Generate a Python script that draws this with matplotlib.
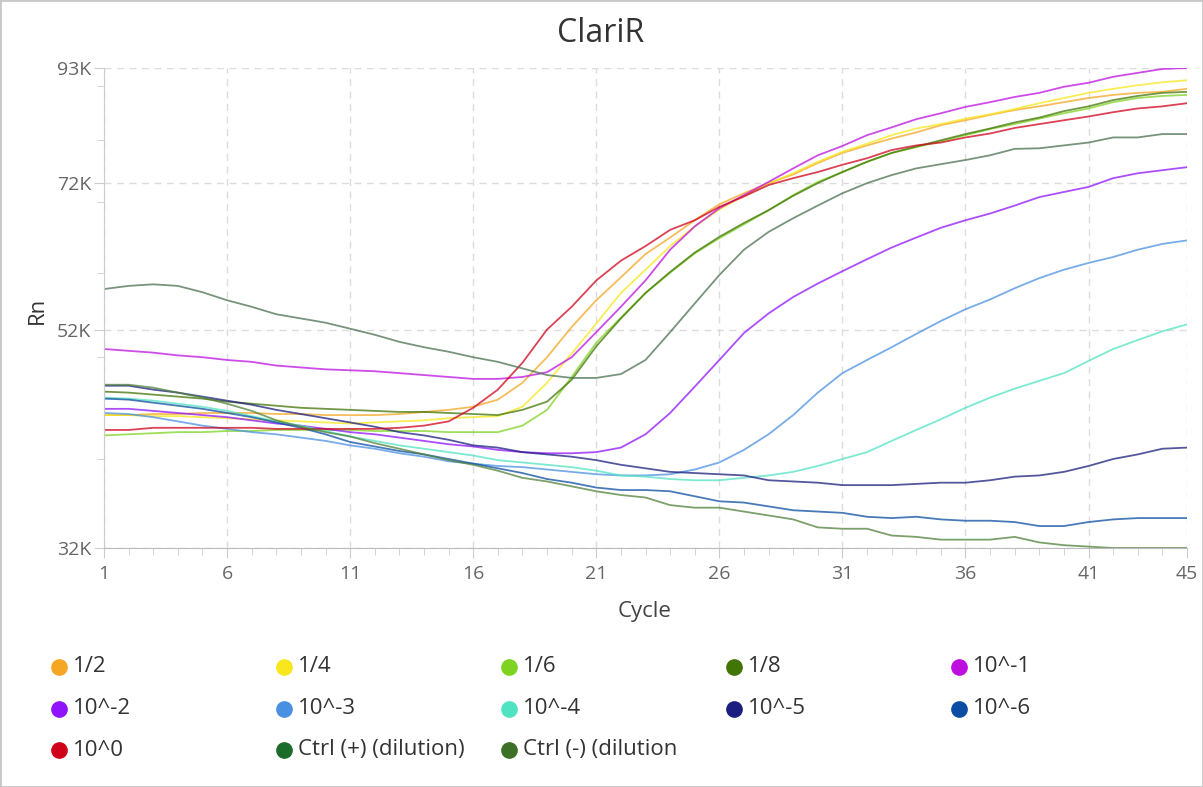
import matplotlib.pyplot as plt
from matplotlib.ticker import FixedLocator, FixedFormatter, NullFormatter
from matplotlib.patches import Rectangle

plt.rcParams['font.family'] = ['Open Sans', 'DejaVu Sans']

cycles = list(range(1, 46))

# Rn readings in thousands, one value per cycle
half = [43.0, 43.0, 43.1, 43.1, 43.2, 43.2, 43.2, 43.1, 43.1, 43.0, 43.0, 43.0, 43.1,
        43.3, 43.5, 43.8, 44.5, 46.2, 48.9, 52.3, 55.5, 58.4, 61.5, 63.8, 66.3, 68.7,
        70.4, 72.0, 73.4, 75.3, 77.0, 78.3, 79.5, 80.6, 81.9, 82.8, 83.8, 84.7, 85.4,
        86.2, 87.0, 87.6, 88.0, 88.2, 88.8]
quarter = [43.0, 43.0, 42.9, 42.9, 42.8, 42.7, 42.6, 42.5, 42.4, 42.3, 42.2, 42.3, 42.4,
           42.5, 42.7, 42.8, 42.9, 43.8, 46.2, 49.3, 52.7, 56.4, 59.4, 62.6, 65.4, 67.9,
           70.0, 71.9, 73.6, 75.5, 77.2, 78.6, 80.1, 81.3, 82.1, 83.1, 83.9, 84.9, 86.0,
           87.0, 88.0, 88.8, 89.5, 90.1, 90.5]
sixth = [41.1, 41.2, 41.3, 41.4, 41.4, 41.5, 41.5, 41.6, 41.6, 41.6, 41.6, 41.5, 41.5,
         41.5, 41.4, 41.4, 41.4, 42.0, 43.5, 46.8, 50.5, 53.4, 56.4, 59.0, 61.6, 63.7,
         65.7, 67.8, 70.1, 72.2, 73.8, 75.5, 77.0, 78.0, 79.0, 80.1, 81.2, 82.1, 83.1,
         84.1, 85.0, 86.2, 87.0, 87.4, 87.6]
eighth = [45.3, 45.2, 45.0, 44.8, 44.6, 44.3, 44.1, 43.9, 43.7, 43.6, 43.5, 43.4, 43.3,
          43.3, 43.2, 43.1, 43.0, 43.5, 44.3, 46.5, 50.1, 53.3, 56.4, 59.1, 61.7, 63.9,
          65.9, 67.8, 70.0, 72.0, 73.8, 75.5, 77.0, 78.1, 79.2, 80.3, 81.3, 82.4, 83.3,
          84.5, 85.4, 86.6, 87.4, 88.0, 88.2]
e_m1 = [49.8, 49.6, 49.4, 49.1, 48.9, 48.6, 48.4, 48.0, 47.8, 47.6, 47.5, 47.4, 47.2,
        47.0, 46.8, 46.6, 46.6, 46.8, 47.3, 48.9, 51.7, 54.7, 58.0, 62.1, 65.4, 68.1,
        70.1, 72.2, 74.4, 76.6, 78.2, 80.1, 81.5, 83.0, 84.1, 85.3, 86.2, 87.2, 88.0,
        89.2, 90.0, 91.2, 92.0, 92.8, 93.0]
e_m2 = [43.6, 43.6, 43.4, 43.2, 43.0, 42.8, 42.5, 42.2, 42.0, 41.7, 41.4, 41.2, 40.9,
        40.6, 40.3, 40.1, 39.8, 39.6, 39.5, 39.5, 39.6, 40.0, 41.2, 43.2, 45.8, 48.6,
        51.6, 53.9, 55.9, 57.6, 59.2, 60.8, 62.4, 63.8, 65.2, 66.3, 67.3, 68.5, 69.8,
        70.6, 71.4, 72.8, 73.6, 74.1, 74.6]
e_m3 = [43.2, 43.1, 42.8, 42.4, 42.0, 41.7, 41.4, 41.2, 40.9, 40.6, 40.2, 39.9, 39.5,
        39.2, 38.8, 38.6, 38.4, 38.3, 38.1, 37.9, 37.7, 37.6, 37.6, 37.7, 38.1, 38.7,
        39.8, 41.2, 43.0, 45.2, 47.2, 48.6, 50.0, 51.5, 53.0, 54.4, 55.6, 57.0, 58.3,
        59.4, 60.3, 61.1, 62.1, 62.9, 63.4]
e_m4 = [44.7, 44.6, 44.4, 44.1, 43.8, 43.4, 42.9, 42.4, 42.0, 41.5, 41.0, 40.6, 40.2,
        39.9, 39.6, 39.3, 38.9, 38.7, 38.5, 38.3, 38.0, 37.6, 37.5, 37.3, 37.2, 37.2,
        37.4, 37.6, 37.9, 38.4, 39.0, 39.6, 40.6, 41.6, 42.6, 43.7, 44.7, 45.6, 46.4,
        47.2, 48.5, 49.8, 50.8, 51.8, 52.6]
e_m5 = [45.9, 45.9, 45.5, 45.2, 44.8, 44.4, 44.0, 43.5, 43.1, 42.7, 42.3, 41.9, 41.4,
        41.1, 40.7, 40.2, 40.0, 39.6, 39.4, 39.2, 38.9, 38.5, 38.2, 37.9, 37.8, 37.7,
        37.6, 37.2, 37.1, 37.0, 36.8, 36.8, 36.8, 36.9, 37.0, 37.0, 37.2, 37.5, 37.6,
        37.9, 38.4, 39.0, 39.4, 39.9, 40.0]
e_m6 = [44.6, 44.5, 44.2, 43.9, 43.6, 43.2, 42.8, 42.3, 41.8, 41.2, 40.5, 40.1, 39.7,
        39.4, 39.0, 38.6, 38.2, 37.8, 37.3, 37.0, 36.6, 36.4, 36.4, 36.3, 35.9, 35.5,
        35.4, 35.1, 34.8, 34.7, 34.6, 34.3, 34.2, 34.3, 34.1, 34.0, 34.0, 33.9, 33.6,
        33.6, 33.9, 34.1, 34.2, 34.2, 34.2]
e_0 = [41.6, 41.6, 41.8, 41.8, 41.8, 41.8, 41.8, 41.7, 41.7, 41.7, 41.7, 41.7, 41.8,
       42.0, 42.4, 43.7, 45.5, 48.3, 52.0, 54.7, 58.0, 60.6, 62.6, 64.9, 66.3, 68.3,
       69.9, 71.7, 72.8, 73.8, 75.0, 76.1, 77.5, 78.3, 78.8, 79.7, 80.4, 81.4, 82.1,
       82.8, 83.5, 84.3, 85.0, 85.4, 86.0]
ctrl_pos = [56.9, 57.3, 57.5, 57.3, 56.5, 55.5, 54.7, 53.8, 53.3, 52.8, 52.1, 51.4, 50.6,
            50.0, 49.5, 48.9, 48.4, 47.7, 47.0, 46.7, 46.7, 47.1, 48.6, 51.7, 55.1, 58.7,
            62.1, 64.6, 66.6, 68.5, 70.4, 72.0, 73.3, 74.4, 75.1, 75.8, 76.6, 77.7, 77.8,
            78.3, 78.8, 79.7, 79.7, 80.3, 80.3]
ctrl_neg = [46.0, 46.0, 45.7, 45.2, 44.7, 44.1, 43.4, 42.5, 41.9, 41.4, 41.0, 40.4, 39.9,
            39.4, 38.9, 38.5, 38.0, 37.4, 37.1, 36.7, 36.3, 36.0, 35.8, 35.2, 35.0, 35.0,
            34.7, 34.4, 34.1, 33.5, 33.4, 33.4, 32.9, 32.8, 32.6, 32.6, 32.6, 32.8, 32.4,
            32.2, 32.1, 32.0, 32.0, 32.0, 32.0]

names = ['1/2', '1/4', '1/6', '1/8', '10^-1',
         '10^-2', '10^-3', '10^-4', '10^-5', '10^-6',
         '10^0', 'Ctrl (+) (dilution)', 'Ctrl (-) (dilution']
series = [half, quarter, sixth, eighth, e_m1,
          e_m2, e_m3, e_m4, e_m5, e_m6,
          e_0, ctrl_pos, ctrl_neg]
colors = ['#F5A623', '#F8E71C', '#7ED321', '#417505', '#BD10E0',
          '#9013FE', '#4A90E2', '#50E3C2', '#1B1E7E', '#0B4DA2',
          '#D0021B', '#1B6B2A', '#3B7026']
line_colors = ['#F5A623', '#F8E71C', '#7ED321', '#417505', '#BD10E0',
               '#9013FE', '#4A90E2', '#50E3C2', '#1B1E7E', '#0B4DA2',
               '#D0021B', '#4A7050', '#50803A']

W, H = 1203, 787
fig = plt.figure(figsize=(W / 100, H / 100), dpi=100)
ax = fig.add_axes([104 / W, 1 - 548 / H, (1187 - 104) / W, (548 - 68) / H])

for vals, c in zip(series, line_colors):
    ax.plot(cycles, vals, color=c, lw=1.3, alpha=0.75)

ax.set_yscale('log')
ax.set_xlim(1, 45)
ax.set_ylim(32, 93)
ax.yaxis.set_major_locator(FixedLocator([32, 52, 72, 93]))
ax.yaxis.set_major_formatter(FixedFormatter(['32K', '52K', '72K', '93K']))
ax.yaxis.set_minor_locator(FixedLocator([39, 48.9, 59, 69, 79.3, 89.3]))
ax.yaxis.set_minor_formatter(NullFormatter())
ax.set_xticks([1, 6, 11, 16, 21, 26, 31, 36, 41, 45])
ax.set_xticks(cycles, minor=True)

ax.set_axisbelow(True)
ax.grid(True, which='major', ls=(0, (5, 4)), color='#dcdcdc', lw=1)
for s in ['top', 'right']:
    ax.spines[s].set_visible(False)
ax.spines['left'].set_color('#cccccc')
ax.spines['bottom'].set_color('#bbbbbb')
ax.tick_params(which='major', length=7, color='#cccccc', labelcolor='#666666', labelsize=14)
ax.tick_params(which='minor', length=5, color='#cccccc')
ax.tick_params(axis='x', which='major', pad=5)
ax.tick_params(axis='y', which='major', pad=2)

fig.text(601 / W, 1 - 33 / H, 'ClariR', ha='center', va='center', fontsize=23, color='#333333')
fig.text(37 / W, 1 - 310 / H, 'Rn', rotation=90, ha='center', va='center', fontsize=16, color='#333333')
fig.text(645 / W, 1 - 611 / H, 'Cycle', ha='center', va='center', fontsize=16, color='#444444')

# legend grid: 5 columns, row-major order
lax = fig.add_axes([0, 0, 1, 1])
lax.set_xlim(0, W)
lax.set_ylim(H, 0)
lax.axis('off')
for i, (name, c) in enumerate(zip(names, colors)):
    col, row = i % 5, i // 5
    x0 = 59 + 225 * col
    y0 = 667 + 41.5 * row
    lax.plot([x0], [y0], 'o', ms=11, color=c)
    lax.text(x0 + 14, y0, name, va='center', ha='left', fontsize=16, color='#333333')

fig.patches.append(Rectangle((0, 0), 1, 1, transform=fig.transFigure, fill=False,
                             ec='#c8c8c8', lw=2))

fig.savefig('out.png', dpi=100)
